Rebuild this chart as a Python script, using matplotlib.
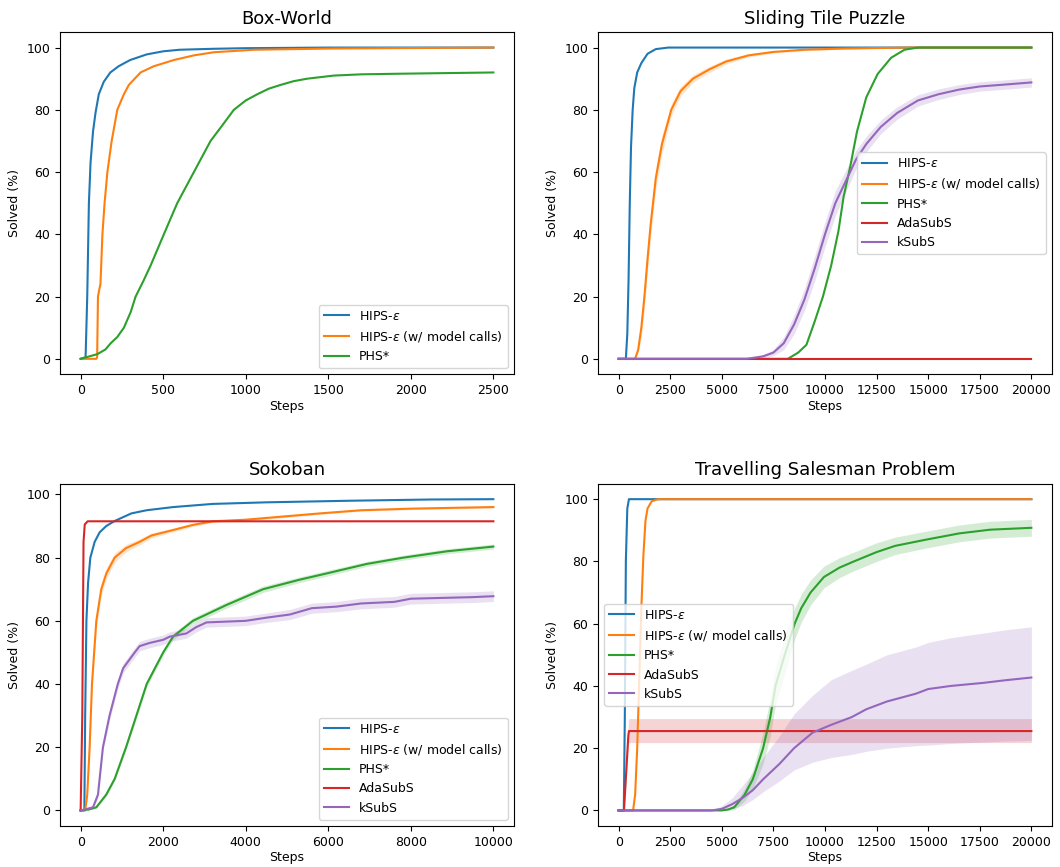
import matplotlib
matplotlib.use("Agg")
import matplotlib.pyplot as plt
import numpy as np

LABELS = ["HIPS-$\\epsilon$", "HIPS-$\\epsilon$ (w/ model calls)", "PHS*", "AdaSubS", "kSubS"]
COLORS = ["#1f77b4", "#ff7f0e", "#2ca02c", "#d62728", "#9467bd"]

# ---- Box-World ----
bw_hips_x = [0, 30, 40, 50, 60, 75, 90, 110, 140, 180, 230, 300, 400, 500, 600, 800, 1000, 1500, 2500]
bw_hips_y = [0, 0.5, 20, 50, 63, 73, 79, 85, 89, 92, 94, 96, 97.8, 98.8, 99.3, 99.6, 99.8, 100, 100]
bw_hipsm_x = [0, 95, 100, 105, 112, 120, 132, 145, 162, 188, 222, 262, 292, 363, 443, 565, 687, 808, 1050, 1530, 2500]
bw_hipsm_y = [0, 0, 0.5, 20, 22, 24, 40, 50, 60, 70, 80, 85, 88, 92, 94, 96, 97.5, 98.5, 99.3, 99.7, 100]
bw_phs_x = [0, 101, 150, 182, 222, 262, 303, 333, 380, 424, 504, 585, 686, 787, 858, 928, 1000, 1070, 1140, 1211, 1290, 1372, 1533, 1700, 1937, 2500]
bw_phs_y = [0, 1.5, 3, 5, 7, 10, 15, 20, 25, 30, 40, 50, 60, 70, 75, 80, 83, 85, 86.8, 88, 89.2, 90, 91, 91.4, 91.6, 92]

# ---- Sliding Tile Puzzle ----
stp_hips_x = [0, 350, 420, 480, 540, 600, 680, 760, 900, 1100, 1400, 1800, 2400, 20000]
stp_hips_y = [0, 0, 8, 25, 50, 68, 80, 87, 92, 95, 98, 99.5, 100, 100]
stp_hipsm_x = [0, 800, 950, 1100, 1250, 1400, 1550, 1800, 2100, 2550, 3000, 3600, 4400, 5200, 6300, 7500, 9000, 11000, 14000, 20000]
stp_hipsm_y = [0, 0, 3, 10, 20, 32, 43, 58, 69, 80, 86, 90, 93, 95.5, 97.5, 98.6, 99.3, 99.7, 100, 100]
stp_hipsm_hw = [0, 0, 1, 3, 4, 4, 4, 3.5, 3, 2, 1.5, 1.2, 1, 0.8, 0.5, 0.4, 0.3, 0.2, 0, 0]
stp_phs_x = [0, 8200, 8700, 9100, 9500, 9900, 10300, 10650, 10900, 11230, 11550, 12000, 12550, 13200, 13850, 14500, 20000]
stp_phs_y = [0, 0, 2, 4.5, 12, 20, 30, 41, 52, 62, 73, 84, 91.5, 96.7, 99.3, 100, 100]
stp_ada_x = [0, 20000]
stp_ada_y = [0, 0]
stp_ksub_x = [0, 6200, 7000, 7500, 8000, 8500, 9000, 9500, 10000, 10500, 11000, 11500, 12000, 12700, 13500, 14500, 15500, 16500, 17500, 18500, 20000]
stp_ksub_y = [0, 0, 0.8, 2, 5, 11, 19, 29, 40, 50, 57, 64, 69, 74.5, 79, 83, 85, 86.5, 87.5, 88, 88.8]
stp_ksub_hw = [0, 0, 0.5, 1, 2, 3, 3.5, 4, 4, 4, 3.5, 3, 2.5, 2.2, 2, 1.8, 1.7, 1.6, 1.5, 1.5, 1.5]

# ---- Sokoban ----
sk_hips_x = [0, 90, 110, 140, 180, 235, 340, 460, 620, 825, 1230, 1600, 2240, 3200, 4500, 6500, 8500, 10000]
sk_hips_y = [0, 0, 30, 60, 72, 80, 85, 88, 90, 91.6, 94, 95, 96, 97, 97.5, 98, 98.4, 98.5]
sk_hipsm_x = [0, 110, 160, 218, 275, 380, 500, 623, 825, 1100, 1430, 1714, 2320, 2700, 3200, 4000, 4900, 5800, 6800, 8000, 10000]
sk_hipsm_y = [0, 0, 5, 20, 40, 60, 70, 75, 80, 83, 85, 87, 89, 90.3, 91.5, 92, 93, 94, 95, 95.5, 96]
sk_hipsm_hw = [0, 0, 1, 2, 2.5, 2.5, 2, 1.8, 1.5, 1.2, 1, 0.8, 0.6, 0.5, 0.4, 0.4, 0.4, 0.3, 0.3, 0.3, 0.3]
sk_phs_x = [0, 200, 380, 620, 825, 1100, 1350, 1600, 2000, 2240, 2720, 3530, 4420, 5300, 5960, 6930, 7820, 8870, 10000]
sk_phs_y = [0, 0.3, 1, 5, 10, 20, 30, 40, 50, 55, 60, 65, 70, 73, 75, 78, 80, 82, 83.5]
sk_phs_hw = [0, 0, 0.3, 0.5, 0.7, 0.8, 1, 1, 1, 1, 1, 1, 1, 0.9, 0.9, 0.8, 0.8, 0.8, 0.8]
sk_ada_x = [0, 40, 70, 100, 170, 10000]
sk_ada_y = [0, 30, 85, 90.5, 91.5, 91.5]
sk_ksub_x = [0, 100, 300, 420, 460, 540, 700, 900, 1030, 1310, 1430, 1670, 2000, 2160, 2560, 2800, 3050, 4000, 4500, 5070, 5600, 6200, 6800, 7600, 8000, 9500, 10000]
sk_ksub_y = [0, 0.3, 1, 5, 10, 20, 30, 40, 45, 50, 52, 53, 54, 55, 56, 58, 59.5, 60, 61, 62, 64, 64.5, 65.5, 66, 67, 67.5, 67.8]
sk_ksub_hw = [0, 0, 0.5, 1, 1, 1.2, 1.5, 1.5, 1.5, 1.5, 1.5, 1.5, 1.5, 1.5, 1.5, 1.5, 1.5, 1.5, 1.5, 1.6, 1.6, 1.6, 1.7, 1.7, 1.7, 1.7, 1.7]

# ---- Travelling Salesman Problem ----
tsp_hips_x = [0, 250, 300, 350, 420, 500, 20000]
tsp_hips_y = [0, 0, 30, 80, 97, 100, 100]
tsp_hipsm_x = [0, 700, 800, 900, 1000, 1100, 1200, 1300, 1400, 1600, 1900, 20000]
tsp_hipsm_y = [0, 0, 5, 20, 42, 65, 82, 93, 97, 99.3, 100, 100]
tsp_phs_x = [0, 5000, 5300, 5600, 6100, 6500, 7000, 7350, 7600, 8050, 8530, 8850, 9300, 9950, 10700, 11400, 12500, 13400, 14900, 16500, 18000, 20000]
tsp_phs_y = [0, 0, 0.3, 1, 5, 10, 20, 30, 40, 50, 60, 65, 70, 75, 78, 80, 83, 85, 87, 89, 90.2, 90.8]
tsp_phs_hw = [0, 0, 0.3, 0.8, 2, 3, 5, 6, 6, 6, 5, 4.5, 4, 3.5, 3.2, 3, 3, 2.8, 2.7, 2.7, 2.7, 2.7]
tsp_ada_x = [0, 260, 470, 500, 20000]
tsp_ada_y = [0, 0, 24, 25.5, 25.5]
tsp_ada_lo = [0, 0, 20.5, 21.8, 21.8]
tsp_ada_hi = [0, 0, 28, 29.5, 29.5]
tsp_ksub_x = [0, 4500, 5000, 5500, 6000, 6500, 7000, 7800, 8500, 9400, 10300, 11300, 12000, 13000, 14400, 15000, 16100, 17700, 18700, 20000]
tsp_ksub_y = [0, 0, 0.5, 2, 4, 6.5, 10, 15, 20, 25, 27.5, 30, 32.5, 35, 37.5, 39, 40, 41, 41.8, 42.7]
tsp_ksub_lo = [0, 0, 0, 0.5, 1.5, 3.5, 6, 9.5, 13, 15.5, 17, 18, 19, 20, 20.8, 21, 21.5, 22, 22.3, 22.5]
tsp_ksub_hi = [0, 0, 1.5, 4, 8, 12, 17, 24, 31, 37, 42, 45, 47, 50, 52.5, 54, 55.5, 57, 58, 59]


def band(ax, x, lo, hi, color):
    ax.fill_between(x, lo, hi, color=color, alpha=0.2, linewidth=0)


def band_hw(ax, x, y, hw, color):
    y = np.array(y)
    hw = np.array(hw)
    band(ax, x, y - hw, y + hw, color)


fig, axes = plt.subplots(2, 2, figsize=(10.6, 8.67), dpi=100)
fig.subplots_adjust(left=60 / 1060, right=1052 / 1060, top=1 - 32 / 867,
                    bottom=1 - 826 / 867, wspace=0.185, hspace=0.319)

# Box-World
ax = axes[0, 0]
ax.plot(bw_hips_x, bw_hips_y, color=COLORS[0], label=LABELS[0])
ax.plot(bw_hipsm_x, bw_hipsm_y, color=COLORS[1], label=LABELS[1])
ax.plot(bw_phs_x, bw_phs_y, color=COLORS[2], label=LABELS[2])
ax.set_title("Box-World", fontsize=13)
ax.legend(loc="lower right", fontsize=9)

# Sliding Tile Puzzle
ax = axes[0, 1]
ax.plot(stp_hips_x, stp_hips_y, color=COLORS[0], label=LABELS[0])
band_hw(ax, stp_hipsm_x, stp_hipsm_y, stp_hipsm_hw, COLORS[1])
ax.plot(stp_hipsm_x, stp_hipsm_y, color=COLORS[1], label=LABELS[1])
ax.plot(stp_phs_x, stp_phs_y, color=COLORS[2], label=LABELS[2])
ax.plot(stp_ada_x, stp_ada_y, color=COLORS[3], label=LABELS[3])
band_hw(ax, stp_ksub_x, stp_ksub_y, stp_ksub_hw, COLORS[4])
ax.plot(stp_ksub_x, stp_ksub_y, color=COLORS[4], label=LABELS[4])
ax.set_title("Sliding Tile Puzzle", fontsize=13)
ax.legend(loc="center right", fontsize=9)

# Sokoban
ax = axes[1, 0]
ax.plot(sk_hips_x, sk_hips_y, color=COLORS[0], label=LABELS[0])
band_hw(ax, sk_hipsm_x, sk_hipsm_y, sk_hipsm_hw, COLORS[1])
ax.plot(sk_hipsm_x, sk_hipsm_y, color=COLORS[1], label=LABELS[1])
band_hw(ax, sk_phs_x, sk_phs_y, sk_phs_hw, COLORS[2])
ax.plot(sk_phs_x, sk_phs_y, color=COLORS[2], label=LABELS[2])
ax.plot(sk_ada_x, sk_ada_y, color=COLORS[3], label=LABELS[3])
band_hw(ax, sk_ksub_x, sk_ksub_y, sk_ksub_hw, COLORS[4])
ax.plot(sk_ksub_x, sk_ksub_y, color=COLORS[4], label=LABELS[4])
ax.set_title("Sokoban", fontsize=13)
ax.legend(loc="lower right", fontsize=9)

# TSP
ax = axes[1, 1]
ax.plot(tsp_hips_x, tsp_hips_y, color=COLORS[0], label=LABELS[0])
ax.plot(tsp_hipsm_x, tsp_hipsm_y, color=COLORS[1], label=LABELS[1])
band_hw(ax, tsp_phs_x, tsp_phs_y, tsp_phs_hw, COLORS[2])
ax.plot(tsp_phs_x, tsp_phs_y, color=COLORS[2], label=LABELS[2])
band(ax, tsp_ada_x, tsp_ada_lo, tsp_ada_hi, COLORS[3])
ax.plot(tsp_ada_x, tsp_ada_y, color=COLORS[3], label=LABELS[3])
band(ax, tsp_ksub_x, tsp_ksub_lo, tsp_ksub_hi, COLORS[4])
ax.plot(tsp_ksub_x, tsp_ksub_y, color=COLORS[4], label=LABELS[4])
ax.set_title("Travelling Salesman Problem", fontsize=13)
ax.legend(loc="center left", fontsize=9)

for ax in axes.flat:
    ax.set_xlabel("Steps", fontsize=9, labelpad=2)
    ax.set_ylabel("Solved (%)", fontsize=9)
    ax.tick_params(labelsize=9)

fig.savefig("out.png", dpi=100)
